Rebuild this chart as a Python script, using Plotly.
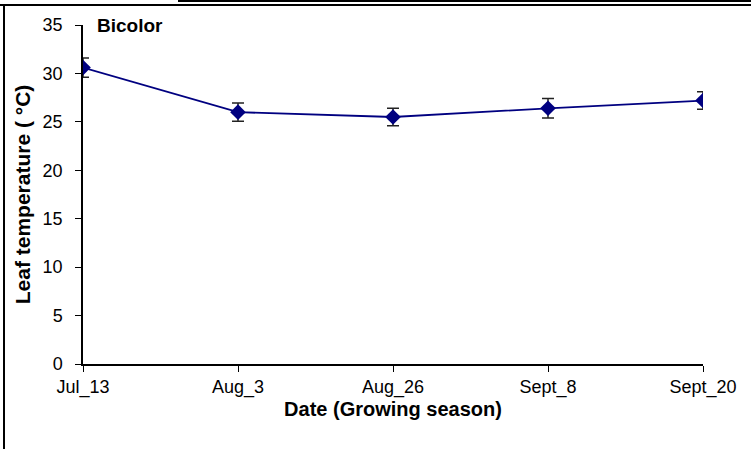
import plotly.graph_objects as go

categories = ["Jul_13", "Aug_3", "Aug_26", "Sept_8", "Sept_20"]
leaf_temp = [30.6, 26.0, 25.5, 26.4, 27.2]
err = [1.0, 0.95, 0.9, 1.0, 0.9]
y_ticks = [0, 5, 10, 15, 20, 25, 30, 35]

W, H = 751, 449
L, R, T, B = 83, 48, 25, 85
pw, ph = W - L - R, H - T - B

def px(x):
    return (x - L) / pw

def py(y):
    return (H - B - y) / ph

font = "Liberation Sans, Arial, sans-serif"

fig = go.Figure()
fig.add_trace(go.Scatter(
    x=list(range(len(categories))), y=leaf_temp,
    mode="lines+markers",
    line=dict(color="#000080", width=1.8),
    marker=dict(symbol="diamond", size=12, color="#000080"),
    error_y=dict(type="data", array=err, visible=True, color="#222222", thickness=1.5, width=6),
    showlegend=False,
))

fig.update_layout(
    width=W, height=H,
    margin=dict(l=L, r=R, t=T, b=B),
    paper_bgcolor="white", plot_bgcolor="white",
    font=dict(family=font, size=18, color="black"),
    xaxis=dict(
        range=[0, len(categories) - 1],
        tickmode="array", tickvals=list(range(len(categories))), ticktext=categories,
        showgrid=False, zeroline=False, showline=True, linecolor="black", linewidth=1.5,
        ticks="outside", ticklen=6, tickcolor="black", tickwidth=1,
        tickfont=dict(size=18), ticklabelstandoff=0,
        title=dict(text="<b>Date (Growing season)</b>", font=dict(size=20), standoff=2),
        automargin=False,
    ),
    yaxis=dict(
        range=[0, 35],
        tickmode="array", tickvals=y_ticks,
        showgrid=False, zeroline=False, showline=True, linecolor="black", linewidth=1.5,
        ticks="outside", ticklen=6, tickcolor="black", tickwidth=1,
        tickfont=dict(size=18), ticklabelstandoff=9,
        title=dict(text="<b>Leaf temperature ( °C)</b>", font=dict(size=21), standoff=6),
        automargin=False,
    ),
    annotations=[dict(
        text="<b>Bicolor</b>", xref="paper", yref="paper",
        x=px(95), y=py(25), xanchor="left", yanchor="middle",
        showarrow=False, font=dict(size=19),
    )],
    shapes=[
        dict(type="line", xref="paper", yref="paper", x0=px(4), x1=px(4), y0=py(4), y1=py(449),
             line=dict(color="black", width=2)),
        dict(type="line", xref="paper", yref="paper", x0=px(0), x1=px(751), y0=py(5), y1=py(5),
             line=dict(color="black", width=2)),
        dict(type="line", xref="paper", yref="paper", x0=px(178), x1=px(751), y0=py(1), y1=py(1),
             line=dict(color="black", width=2)),
    ],
)

fig.write_html(
    "out.html",
    config={"displayModeBar": False},
    post_script="document.body.style.margin='0px';document.body.style.overflow='hidden';",
)
